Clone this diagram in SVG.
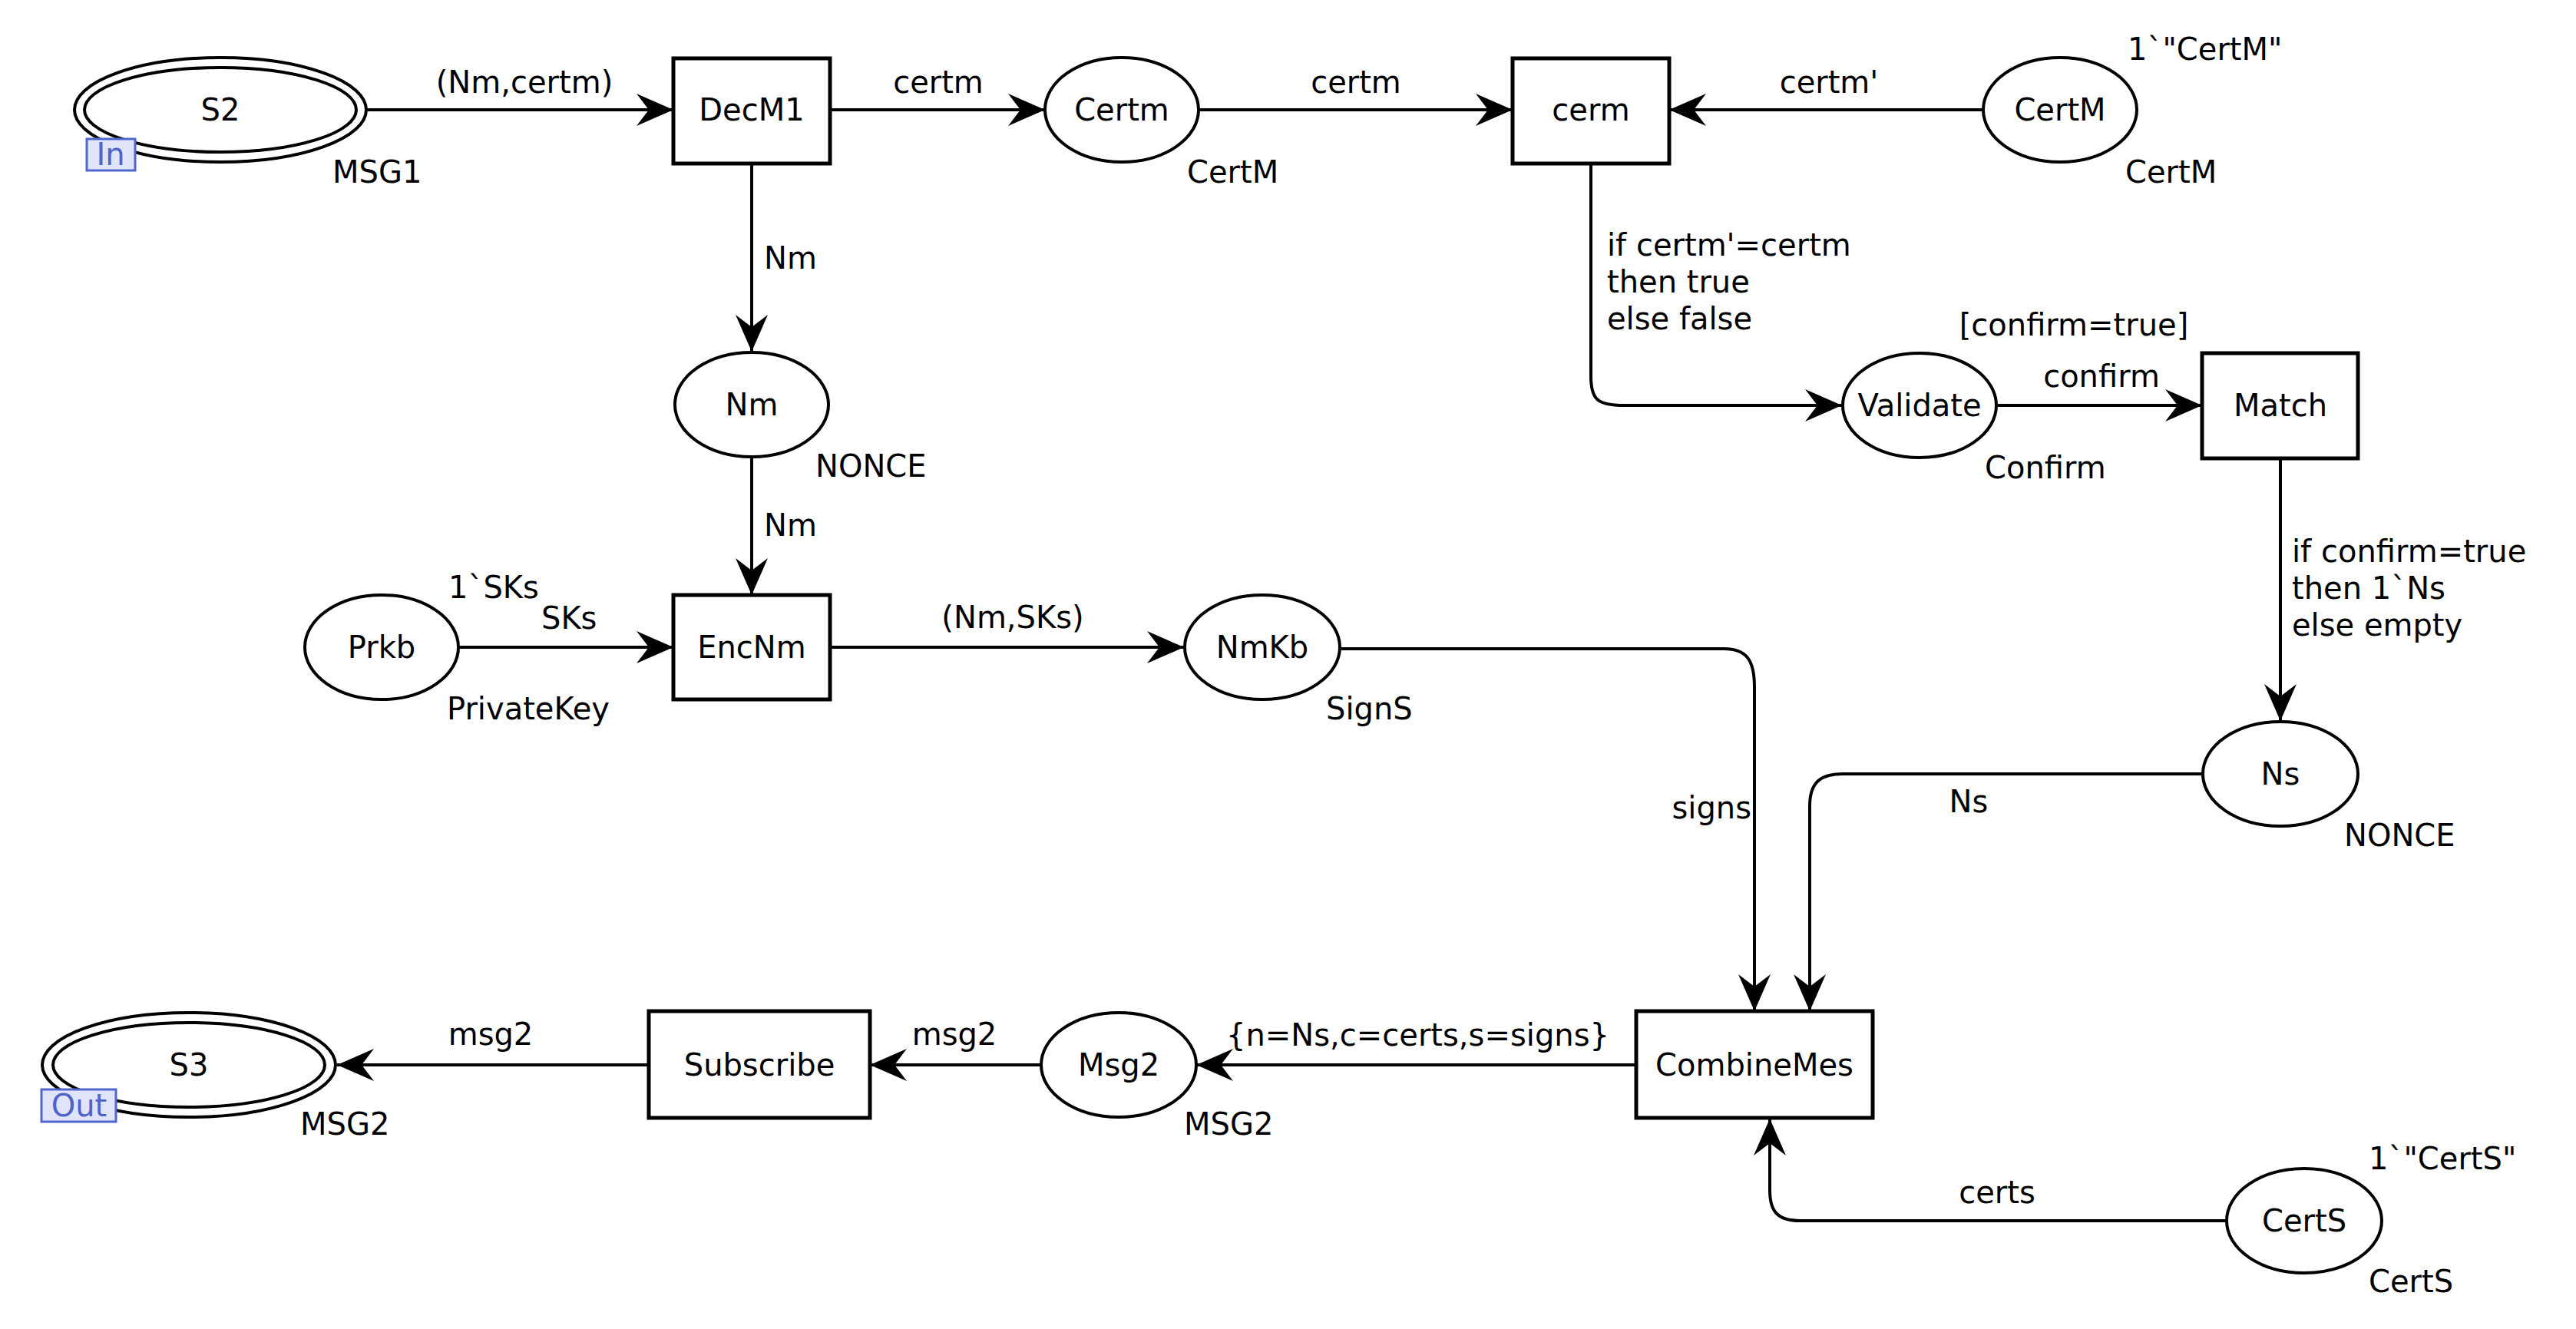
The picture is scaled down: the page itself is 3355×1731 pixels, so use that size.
<svg xmlns="http://www.w3.org/2000/svg" width="3355" height="1731" viewBox="0 0 3355 1731">
<style>
text{font-family:"DejaVu Sans","Liberation Sans",sans-serif;font-size:40px;fill:#000}
.p{fill:#fff;stroke:#000;stroke-width:4}
.t{fill:#fff;stroke:#000;stroke-width:5}
.c{text-anchor:middle}
.arc{fill:none;stroke:#000;stroke-width:4}
.tag{fill:#dfe4f8;stroke:#5066cc;stroke-width:3}
.tagt{fill:#4f63c9;text-anchor:middle}
</style>
<defs>
<marker id="ar" markerUnits="userSpaceOnUse" viewBox="-50 -23 52 46" markerWidth="52" markerHeight="46" refX="0" refY="0" orient="auto">
<path d="M0,0 L-48,-21 L-32,0 L-48,21 Z" fill="#000"/>
</marker>
</defs>
<rect width="3355" height="1731" fill="#fff"/>
<g id="connectors">
<path class="arc" marker-end="url(#ar)" d="M478 143 H877"/>
<path class="arc" marker-end="url(#ar)" d="M1081 143 H1361"/>
<path class="arc" marker-end="url(#ar)" d="M1562 143 H1970"/>
<path class="arc" marker-end="url(#ar)" d="M2582 143 H2174"/>
<path class="arc" marker-end="url(#ar)" d="M979 213 V458"/>
<path class="arc" marker-end="url(#ar)" d="M979 595 V775"/>
<path class="arc" marker-end="url(#ar)" d="M598 843 H877"/>
<path class="arc" marker-end="url(#ar)" d="M1081 843 H1542"/>
<path class="arc" marker-end="url(#ar)" d="M2072 213 V490 C2072 520 2080 528 2115 528 H2399"/>
<path class="arc" marker-end="url(#ar)" d="M2602 528 H2868"/>
<path class="arc" marker-end="url(#ar)" d="M2970 597 V939"/>
<path class="arc" marker-end="url(#ar)" d="M1747 845 H2245 C2275 845 2285 860 2285 895 V1317"/>
<path class="arc" marker-end="url(#ar)" d="M2868 1008 H2400 C2370 1008 2357 1020 2357 1050 V1317"/>
<path class="arc" marker-end="url(#ar)" d="M2131 1387 H1558"/>
<path class="arc" marker-end="url(#ar)" d="M1355 1387 H1133"/>
<path class="arc" marker-end="url(#ar)" d="M845 1387 H439"/>
<path class="arc" marker-end="url(#ar)" d="M2899 1590 H2345 C2315 1590 2305 1578 2305 1550 V1457"/>
<text class="c" x="683" y="121">(Nm,certm)</text>
<text class="c" x="1222" y="121">certm</text>
<text class="c" x="1766" y="121">certm</text>
<text class="c" x="2382" y="121">certm'</text>
<text x="995" y="350">Nm</text>
<text x="995" y="698">Nm</text>
<text x="705" y="819">SKs</text>
<text class="c" x="1319" y="818">(Nm,SKs)</text>
<text x="2093" y="333">if certm'=certm</text>
<text x="2093" y="381">then true</text>
<text x="2093" y="429">else false</text>
<text class="c" x="2737" y="504">confirm</text>
<text x="2985" y="732">if confirm=true</text>
<text x="2985" y="780">then 1`Ns</text>
<text x="2985" y="828">else empty</text>
<text x="2281" y="1066" text-anchor="end">signs</text>
<text class="c" x="2564" y="1058">Ns</text>
<text x="1597" y="1362">{n=Ns,c=certs,s=signs}</text>
<text class="c" x="1243" y="1361">msg2</text>
<text class="c" x="639" y="1361">msg2</text>
<text class="c" x="2601" y="1567">certs</text>
</g>
<g id="S2">
<ellipse class="p" cx="287" cy="143" rx="190" ry="68"/>
<ellipse class="p" cx="287" cy="143" rx="177" ry="55"/>
<text class="c" x="287" y="157">S2</text>
<rect class="tag" x="113" y="181" width="63" height="41"/>
<text class="tagt" x="144" y="215">In</text>
<text x="433" y="238">MSG1</text>
</g>
<g id="DecM1">
<rect class="t" x="877" y="76" width="204" height="137"/>
<text class="c" x="979" y="157">DecM1</text>
</g>
<g id="Certm">
<ellipse class="p" cx="1461" cy="143" rx="100" ry="68"/>
<text class="c" x="1461" y="157">Certm</text>
<text x="1546" y="238">CertM</text>
</g>
<g id="cerm">
<rect class="t" x="1970" y="76" width="204" height="137"/>
<text class="c" x="2072" y="157">cerm</text>
</g>
<g id="CertM">
<ellipse class="p" cx="2683" cy="143" rx="100" ry="68"/>
<text class="c" x="2683" y="157">CertM</text>
<text x="2771" y="78">1`"CertM"</text>
<text x="2768" y="238">CertM</text>
</g>
<g id="Nm">
<ellipse class="p" cx="979" cy="527" rx="100" ry="68"/>
<text class="c" x="979" y="541">Nm</text>
<text x="1062" y="621">NONCE</text>
</g>
<g id="Validate">
<ellipse class="p" cx="2500" cy="528" rx="100" ry="68"/>
<text class="c" x="2500" y="542">Validate</text>
<text x="2585" y="623">Confirm</text>
</g>
<g id="Match">
<rect class="t" x="2868" y="460" width="203" height="137"/>
<text class="c" x="2970" y="542">Match</text>
<text class="c" x="2701" y="437">[confirm=true]</text>
</g>
<g id="Prkb">
<ellipse class="p" cx="497" cy="843" rx="100" ry="68"/>
<text class="c" x="497" y="857">Prkb</text>
<text x="584" y="779">1`SKs</text>
<text x="582" y="937">PrivateKey</text>
</g>
<g id="EncNm">
<rect class="t" x="877" y="775" width="204" height="136"/>
<text class="c" x="979" y="857">EncNm</text>
</g>
<g id="NmKb">
<ellipse class="p" cx="1644" cy="843" rx="101" ry="68"/>
<text class="c" x="1644" y="857">NmKb</text>
<text x="1727" y="937">SignS</text>
</g>
<g id="Ns">
<ellipse class="p" cx="2970" cy="1008" rx="101" ry="68"/>
<text class="c" x="2970" y="1022">Ns</text>
<text x="3053" y="1102">NONCE</text>
</g>
<g id="CombineMes">
<rect class="t" x="2131" y="1317" width="308" height="139"/>
<text class="c" x="2285" y="1401">CombineMes</text>
</g>
<g id="Msg2">
<ellipse class="p" cx="1457" cy="1387" rx="101" ry="68"/>
<text class="c" x="1457" y="1401">Msg2</text>
<text x="1542" y="1478">MSG2</text>
</g>
<g id="Subscribe">
<rect class="t" x="845" y="1317" width="288" height="139"/>
<text class="c" x="989" y="1401">Subscribe</text>
</g>
<g id="S3">
<ellipse class="p" cx="246" cy="1387" rx="191" ry="68"/>
<ellipse class="p" cx="246" cy="1387" rx="177" ry="55"/>
<text class="c" x="246" y="1401">S3</text>
<rect class="tag" x="54" y="1419" width="97" height="42"/>
<text class="tagt" x="103" y="1454">Out</text>
<text x="391" y="1478">MSG2</text>
</g>
<g id="CertS">
<ellipse class="p" cx="3001" cy="1590" rx="101" ry="68"/>
<text class="c" x="3001" y="1604">CertS</text>
<text x="3085" y="1523">1`"CertS"</text>
<text x="3085" y="1683">CertS</text>
</g>
</svg>
